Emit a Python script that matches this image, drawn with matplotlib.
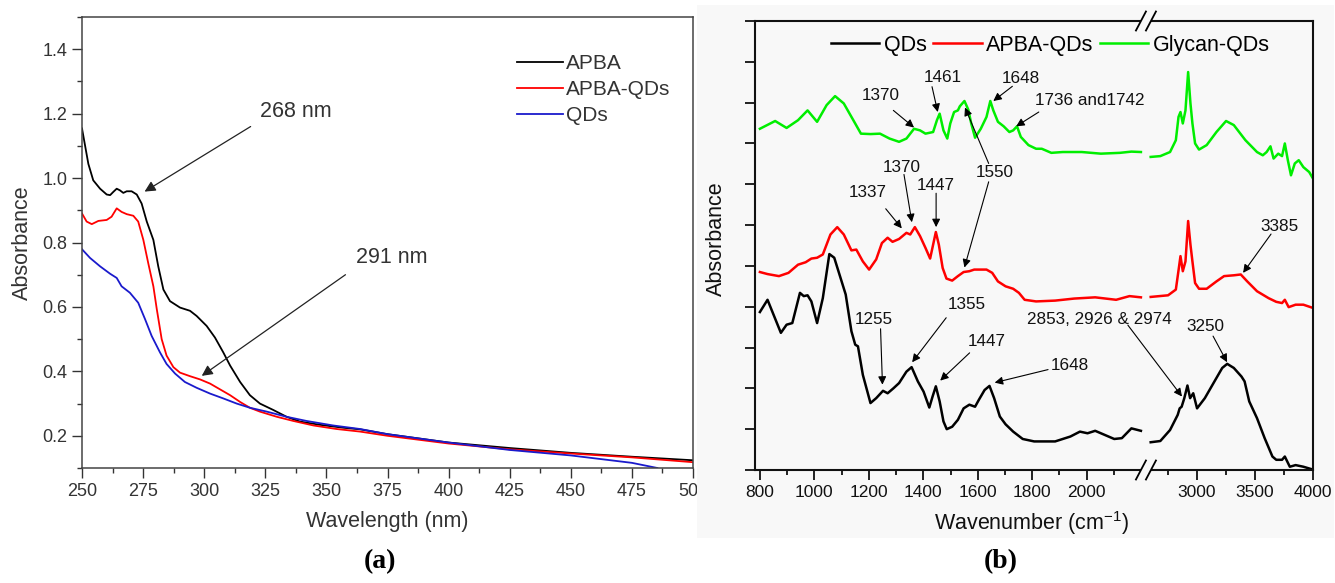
import numpy as np
import matplotlib
matplotlib.use('Agg')
import matplotlib.pyplot as plt
from matplotlib.patches import Rectangle
from matplotlib.ticker import FixedLocator, MultipleLocator, NullFormatter

plt.rcParams['font.family'] = ['Liberation Sans', 'DejaVu Sans']
plt.rcParams['mathtext.fontset'] = 'custom'
plt.rcParams['mathtext.rm'] = 'Liberation Sans'
plt.rcParams['mathtext.it'] = 'Liberation Sans:italic'
plt.rcParams['mathtext.default'] = 'regular'

# ---------------- data: panel (a) UV-vis ----------------
wl_apba = [250, 252.6, 254.6, 257.4, 260.1, 261.5, 262.8, 264.2, 265.5, 266.9, 268.3, 270.3,
           272.4, 274.4, 276.5, 279.2, 281.2, 283.3, 286, 290.1, 294.2, 296.9, 301, 304.4,
           307.8, 310.6, 314.7, 318.7, 322.8, 328.3, 333.7, 339.2, 347.4, 356.9, 363.8, 375,
           400, 425, 450, 475, 500]
abs_apba = [1.154, 1.044, 0.993, 0.967, 0.949, 0.947, 0.957, 0.967, 0.962, 0.954, 0.959, 0.959,
            0.949, 0.921, 0.865, 0.808, 0.726, 0.654, 0.618, 0.598, 0.588, 0.572, 0.541, 0.505,
            0.459, 0.418, 0.367, 0.326, 0.300, 0.280, 0.259, 0.244, 0.234, 0.225, 0.220, 0.205,
            0.179, 0.162, 0.147, 0.135, 0.124]
wl_apbaqd = [250, 251.9, 254, 256.7, 260.1, 262.1, 264.2, 266.2, 268.3, 271, 273, 275.1, 277.1,
             279.2, 280.6, 282.6, 284.6, 287.4, 290.1, 294.2, 298.3, 302.4, 306.5, 310.6, 314.7,
             318.7, 322.8, 329.7, 336.5, 344.7, 354.2, 363.8, 375, 400, 425, 450, 475, 500]
abs_apbaqd = [0.890, 0.865, 0.857, 0.867, 0.870, 0.880, 0.906, 0.895, 0.888, 0.883, 0.865, 0.808,
              0.736, 0.664, 0.593, 0.500, 0.449, 0.413, 0.396, 0.385, 0.375, 0.362, 0.344, 0.326,
              0.305, 0.287, 0.275, 0.259, 0.246, 0.232, 0.221, 0.213, 0.200, 0.176, 0.158, 0.145,
              0.133, 0.118]
wl_qd = [250, 253.3, 257.4, 261.5, 264.2, 266.2, 269.6, 273, 275.8, 278.5, 281.9, 284.6, 288.1,
         292.1, 296.9, 302.4, 307.8, 313.3, 318.7, 325.6, 333.7, 341.9, 352.8, 363.8, 375, 400,
         425, 450, 475, 485.4]
abs_qd = [0.779, 0.752, 0.726, 0.703, 0.690, 0.664, 0.644, 0.613, 0.562, 0.510, 0.459, 0.423,
          0.393, 0.367, 0.349, 0.331, 0.316, 0.300, 0.287, 0.275, 0.259, 0.246, 0.232, 0.221,
          0.205, 0.179, 0.156, 0.139, 0.116, 0.100]

# ---------------- data: panel (b) FTIR (two ranges) ----------------
qds_x_lo = [800, 828, 877, 898, 919, 947, 961, 975, 989, 1010, 1031, 1055, 1073, 1094, 1115, 1136,
            1150, 1160, 1178, 1206, 1227, 1252, 1269, 1290, 1311, 1338, 1357, 1380, 1401, 1422,
            1434, 1446, 1460, 1474, 1486, 1506, 1527, 1548, 1569, 1590, 1604, 1625, 1643, 1660,
            1681, 1702, 1730, 1765, 1807, 1884, 1940, 1975, 2003, 2031, 2066, 2101, 2129, 2164, 2199]
qds_y_lo = [3.87, 4.17, 3.36, 3.56, 3.60, 4.34, 4.26, 4.28, 4.13, 3.60, 4.21, 5.29, 5.20, 4.75,
            4.30, 3.40, 3.07, 3.03, 2.33, 1.64, 1.76, 1.94, 1.88, 2.00, 2.13, 2.41, 2.52, 2.17,
            1.92, 1.53, 1.80, 2.05, 1.68, 1.19, 1.00, 1.06, 1.23, 1.51, 1.60, 1.55, 1.72, 1.96,
            2.06, 1.76, 1.31, 1.12, 0.94, 0.76, 0.70, 0.70, 0.82, 0.94, 0.90, 0.96, 0.86, 0.76,
            0.78, 1.02, 0.96]
qds_x_hi = [2600, 2683, 2767, 2833, 2850, 2867, 2890, 2917, 2940, 2967, 3000, 3067, 3150, 3217,
            3260, 3317, 3383, 3410, 3450, 3517, 3583, 3650, 3683, 3733, 3757, 3800, 3850, 3917, 4000]
qds_y_hi = [0.68, 0.71, 0.98, 1.35, 1.51, 1.55, 1.76, 2.07, 1.76, 1.88, 1.51, 1.76, 2.17, 2.50,
            2.60, 2.50, 2.29, 2.17, 1.68, 1.27, 0.78, 0.33, 0.25, 0.25, 0.33, 0.08, 0.12, 0.08, 0.01]

apba_x_lo = [800, 828, 870, 905, 940, 968, 989, 1010, 1031, 1059, 1084, 1108, 1136, 1154, 1178,
             1201, 1227, 1248, 1269, 1287, 1311, 1338, 1352, 1369, 1388, 1408, 1425, 1436, 1446,
             1457, 1471, 1485, 1506, 1527, 1548, 1569, 1587, 1611, 1632, 1653, 1674, 1702, 1730,
             1751, 1772, 1814, 1884, 1954, 2031, 2108, 2157, 2199]
apba_y_lo = [4.85, 4.80, 4.75, 4.83, 5.03, 5.09, 5.18, 5.20, 5.28, 5.77, 5.95, 5.77, 5.38, 5.40,
             5.11, 4.91, 5.16, 5.56, 5.69, 5.59, 5.66, 5.81, 5.77, 5.95, 5.73, 5.44, 5.18, 5.52,
             5.83, 5.52, 4.95, 4.69, 4.64, 4.75, 4.85, 4.87, 4.91, 4.91, 4.91, 4.83, 4.62, 4.50,
             4.44, 4.34, 4.17, 4.13, 4.15, 4.20, 4.23, 4.17, 4.26, 4.23]
apba_x_hi = [2600, 2750, 2817, 2843, 2857, 2877, 2900, 2923, 2943, 2960, 2983, 3017, 3083, 3167,
             3233, 3317, 3377, 3433, 3517, 3617, 3683, 3733, 3757, 3790, 3850, 3917, 4000]
apba_y_hi = [4.24, 4.28, 4.42, 4.95, 5.24, 4.87, 5.11, 6.10, 5.52, 5.11, 4.58, 4.44, 4.44, 4.62,
             4.75, 4.77, 4.79, 4.62, 4.38, 4.21, 4.12, 4.09, 4.17, 3.99, 4.05, 4.05, 3.97]

gly_x_lo = [800, 856, 898, 940, 975, 1010, 1045, 1076, 1108, 1143, 1171, 1206, 1241, 1276, 1311,
            1338, 1366, 1388, 1408, 1436, 1450, 1460, 1474, 1488, 1499, 1513, 1527, 1534, 1551,
            1565, 1576, 1590, 1611, 1632, 1646, 1657, 1674, 1695, 1716, 1730, 1744, 1758, 1786,
            1814, 1835, 1870, 1912, 1982, 2052, 2122, 2164, 2199]
gly_y_lo = [8.36, 8.55, 8.38, 8.57, 8.81, 8.53, 8.94, 9.16, 8.98, 8.57, 8.24, 8.23, 8.24, 8.12,
            8.04, 8.12, 8.36, 8.32, 8.24, 8.28, 8.57, 8.73, 8.32, 8.12, 8.49, 8.77, 8.81, 8.91,
            9.04, 8.83, 8.49, 8.14, 8.36, 8.65, 9.04, 8.81, 8.53, 8.42, 8.28, 8.32, 8.42, 8.16,
            7.96, 7.87, 7.87, 7.77, 7.79, 7.79, 7.75, 7.77, 7.80, 7.79]
gly_x_hi = [2600, 2683, 2767, 2817, 2840, 2857, 2877, 2900, 2923, 2943, 2960, 2983, 3017, 3083,
            3167, 3250, 3317, 3417, 3517, 3567, 3600, 3633, 3660, 3700, 3733, 3757, 3783, 3810,
            3843, 3877, 3917, 3967, 4000]
gly_y_hi = [7.67, 7.69, 7.79, 8.08, 8.65, 8.77, 8.49, 8.81, 9.75, 8.98, 8.49, 8.00, 7.85, 7.96,
            8.28, 8.55, 8.45, 8.08, 7.79, 7.71, 7.79, 7.93, 7.63, 7.75, 7.69, 8.00, 7.59, 7.22,
            7.51, 7.59, 7.42, 7.30, 7.14]

# annotations: (label, text x, text y, [(tail x, tail y, head x, head y), ...])
uv_notes = [("268 nm", 337.4, 1.206, [(319, 1.16, 275.6, 0.958)]),
            ("291 nm", 376.6, 0.753, [(357.8, 0.70, 299, 0.386)])]
ir_notes = [("1370", 1243, 9.18, [(1290, 8.81, 1366, 8.39)]),
            ("1461", 1471, 9.62, [(1432, 9.39, 1453, 8.77)]),
            ("1648", 1758, 9.59, [(1727, 9.40, 1657, 9.04)]),
            ("1550", 1662, 7.29, [(1640, 7.51, 1553, 8.88), (1640, 7.06, 1551, 4.96)]),
            ("1370", 1321, 7.42, [(1329, 7.24, 1358, 6.07)]),
            ("1337", 1196, 6.79, [(1262, 6.40, 1321, 5.92)]),
            ("1447", 1447, 6.97, [(1447, 6.78, 1447, 5.95)]),
            ("3385", 3707, 5.97, [(3638, 5.78, 3397, 4.83)]),
            ("1255", 1218, 3.69, [(1243, 3.46, 1250, 2.09)]),
            ("1355", 1559, 4.05, [(1484, 3.73, 1359, 2.64)]),
            ("1447", 1633, 3.16, [(1570, 2.87, 1462, 2.19)]),
            ("1648", 1939, 2.55, [(1858, 2.46, 1662, 2.14)]),
            ("2853, 2926 & 2974", 2047, 3.69, [(2151, 3.55, 2870, 1.80)]),
            ("3250", 3069, 3.51, [(3138, 3.28, 3259, 2.64)])]
ir_note_left = ("1736 and1742", 1811, 9.06, [(1824, 8.77, 1741, 8.42)])

# ---------------- figure ----------------
W, H = 1335, 583
fig = plt.figure(figsize=(W / 100, H / 100), dpi=100)


def frame(x0, y0, x1, y1):
    return [x0 / W, 1 - y1 / H, (x1 - x0) / W, (y1 - y0) / H]


BG = '#f8f8f8'
axa = fig.add_axes(frame(82, 17, 693, 468))
axb = fig.add_axes(frame(755, 21, 1313, 470))
axb.set_zorder(2)
axb.set_facecolor('none')
fig.add_artist(Rectangle((697 / W, 1 - 538 / H), (1334 - 697) / W, (538 - 5) / H,
                         transform=fig.transFigure, facecolor=BG, edgecolor='none', zorder=1))

# ---- panel (a)
GREY = '#333333'
axa.plot(wl_apba, abs_apba, color='black', lw=1.3, label='APBA')
axa.plot(wl_apbaqd, abs_apbaqd, color='#ff0000', lw=1.3, label='APBA-QDs')
axa.plot(wl_qd, abs_qd, color='#1a1acc', lw=1.3, label='QDs')
axa.set_xlim(250, 500)
axa.set_ylim(0.1, 1.5)
axa.xaxis.set_major_locator(MultipleLocator(25))
axa.xaxis.set_minor_locator(MultipleLocator(12.5))
axa.yaxis.set_major_locator(MultipleLocator(0.2))
axa.yaxis.set_minor_locator(MultipleLocator(0.1))
axa.tick_params(which='both', direction='out', top=False, right=False, colors=GREY,
                labelsize=13, width=1.0)
axa.tick_params(which='major', length=7)
axa.tick_params(which='minor', length=3.5)
for s in axa.spines.values():
    s.set_color('#444444')
    s.set_linewidth(1.1)
axa.set_xlabel('Wavelength (nm)', fontsize=15.5, color=GREY)
axa.set_ylabel('Absorbance', fontsize=15.5, color=GREY)
axa.xaxis.set_label_coords(0.5, -0.095)
axa.yaxis.set_label_coords(-0.08, 0.5)
leg = axa.legend(loc='upper left', bbox_to_anchor=(0.712, 0.917), frameon=False, fontsize=15,
                 handlelength=2.2, handletextpad=0.15, labelspacing=0.335, borderpad=0,
                 borderaxespad=0)
for t in leg.get_texts():
    t.set_color(GREY)
for lab, tx, ty, arrows in uv_notes:
    axa.text(tx, ty, lab, fontsize=15.5, color=GREY, ha='center', va='center')
    for x0, y0, x1, y1 in arrows:
        axa.annotate('', xy=(x1, y1), xytext=(x0, y0),
                     arrowprops=dict(arrowstyle='-|>', color='#222222', lw=0.9,
                                     mutation_scale=16, shrinkA=0, shrinkB=0))

# ---- panel (b): broken wavenumber axis via piecewise-linear scale
BX = np.array([800., 2200., 2600., 4000.])
BU = np.array([5., 386.5, 396., 558.4])
SL, SR = 0.2725, 0.116


def fwd(x):
    x = np.asarray(x, float)
    u = np.interp(x, BX, BU)
    u = np.where(x < BX[0], BU[0] + (x - BX[0]) * SL, u)
    u = np.where(x > BX[-1], BU[-1] + (x - BX[-1]) * SR, u)
    return u


def inv(u):
    u = np.asarray(u, float)
    x = np.interp(u, BU, BX)
    x = np.where(u < BU[0], BX[0] + (u - BU[0]) / SL, x)
    x = np.where(u > BU[-1], BX[-1] + (u - BU[-1]) / SR, x)
    return x


axb.set_xscale('function', functions=(fwd, inv))
LW = 1.8
axb.plot(qds_x_lo, qds_y_lo, color='black', lw=LW, label='QDs')
axb.plot(qds_x_hi, qds_y_hi, color='black', lw=LW)
axb.plot(apba_x_lo, apba_y_lo, color='#ff0000', lw=LW, label='APBA-QDs')
axb.plot(apba_x_hi, apba_y_hi, color='#ff0000', lw=LW)
axb.plot(gly_x_lo, gly_y_lo, color='#00ee00', lw=LW, label='Glycan-QDs')
axb.plot(gly_x_hi, gly_y_hi, color='#00ee00', lw=LW)
axb.set_xlim(782, 4000)
axb.set_ylim(0, 11)
axb.xaxis.set_major_locator(FixedLocator([800, 1000, 1200, 1400, 1600, 1800, 2000, 3000, 3500, 4000]))
axb.xaxis.set_minor_locator(FixedLocator([900, 1100, 1300, 1500, 1700, 1900, 2100, 2750, 3250, 3750]))
axb.xaxis.set_major_formatter(matplotlib.ticker.FuncFormatter(lambda v, p: '%d' % round(v)))
axb.xaxis.set_minor_formatter(NullFormatter())
axb.yaxis.set_major_locator(MultipleLocator(1))
axb.yaxis.set_major_formatter(NullFormatter())
axb.tick_params(which='both', direction='out', top=False, right=False, colors='#111111',
                labelsize=12.5, width=1.3)
axb.tick_params(which='major', length=7)
axb.tick_params(which='minor', length=3.5)
for s in axb.spines.values():
    s.set_linewidth(1.5)
    s.set_color('#111111')
axb.set_xlabel('Wavenumber (cm$^{-1}$)', fontsize=15.5, color='#111111')
axb.set_ylabel('Absorbance', fontsize=15.5, color='#111111')
axb.xaxis.set_label_coords(0.495, -0.088)
axb.yaxis.set_label_coords(-0.05, 0.515)
axb.legend(loc='center left', bbox_to_anchor=((831 - 755) / 558, (470 - 45) / 449), ncol=3,
           frameon=False, fontsize=15.5, handlelength=2.25, handletextpad=0.2,
           columnspacing=0.3, borderpad=0, borderaxespad=0)

arrow_kw = dict(arrowstyle='-|>', color='black', lw=0.8, mutation_scale=12, shrinkA=0, shrinkB=0)
for lab, tx, ty, arrows in ir_notes:
    axb.text(tx, ty, lab, fontsize=12.3, ha='center', va='center', color='#111111')
    for x0, y0, x1, y1 in arrows:
        axb.annotate('', xy=(x1, y1), xytext=(x0, y0), arrowprops=arrow_kw)
lab, tx, ty, arrows = ir_note_left
axb.text(tx, ty, lab, fontsize=12.3, ha='left', va='center', color='#111111')
for x0, y0, x1, y1 in arrows:
    axb.annotate('', xy=(x1, y1), xytext=(x0, y0), arrowprops=arrow_kw)

# break marks on the top and bottom spines
u0, u1 = fwd(782), fwd(4000)
fb = float((fwd(2400) - u0) / (u1 - u0))
dxa, dya = 1 / 558, 1 / 449
for yc in (0, 1):
    axb.add_patch(Rectangle((fb - 5 * dxa, yc - 3 * dya), 10 * dxa, 6 * dya,
                            transform=axb.transAxes, facecolor=BG, edgecolor='none',
                            clip_on=False, zorder=5))
    for off in (-5, 5):
        axb.plot([fb + (off - 5) * dxa, fb + (off + 5) * dxa], [yc - 9.5 * dya, yc + 9.5 * dya],
                 transform=axb.transAxes, color='black', lw=1.3, clip_on=False, zorder=6)

fig.text(380 / W, 1 - 562 / H, '(a)', fontfamily='Liberation Serif', fontweight='bold',
         fontsize=20, ha='center', va='center')
fig.text(1001 / W, 1 - 562 / H, '(b)', fontfamily='Liberation Serif', fontweight='bold',
         fontsize=20, ha='center', va='center', zorder=3)

fig.savefig('out.png', dpi=100)
